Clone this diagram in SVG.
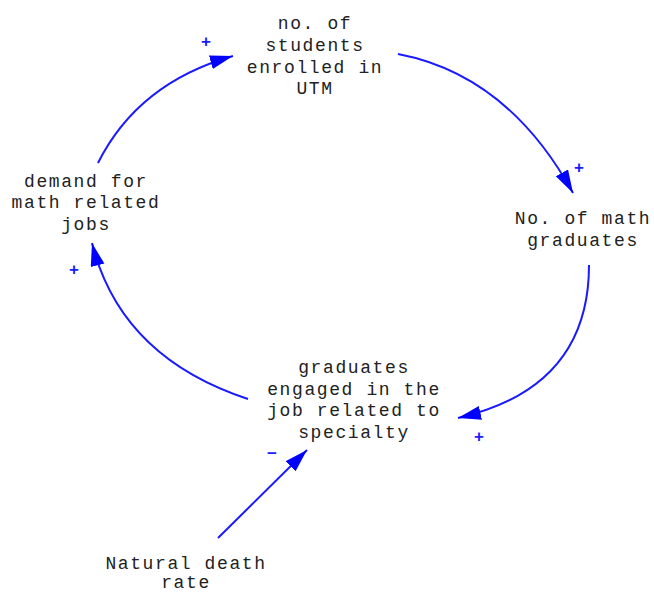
<svg xmlns="http://www.w3.org/2000/svg" width="654" height="594" viewBox="0 0 654 594">
<style>
.lbl{font-family:"Liberation Mono","Courier New",monospace;font-size:18px;letter-spacing:1.6px;fill:#222;text-anchor:middle}
.lnk{fill:none;stroke:#1a1aff;stroke-width:2}
.sgn{font-family:"Liberation Sans",Arial,sans-serif;font-size:17px;font-weight:bold;fill:#1a1aff;text-anchor:middle}
</style>
<defs>
<marker id="ah" markerUnits="userSpaceOnUse" markerWidth="25" markerHeight="15" refX="23" refY="7" orient="auto" viewBox="0 0 25 15">
<path d="M0,0 L23,7 L0,14 Z" fill="#0000ff"/>
</marker>
</defs>
<rect width="654" height="594" fill="#fff"/>
<g id="connectors">
<path class="lnk" d="M98,163 Q138,83 233,56" marker-end="url(#ah)"/>
<path class="lnk" d="M398,54 Q508,75 573,193" marker-end="url(#ah)"/>
<path class="lnk" d="M589,265 Q589,388 458,418" marker-end="url(#ah)"/>
<path class="lnk" d="M248,399 Q120.5,357 92,243" marker-end="url(#ah)"/>
<path class="lnk" d="M218,538 L307,450" marker-end="url(#ah)"/>
<text class="sgn" x="206" y="47">+</text>
<text class="sgn" x="579" y="173">+</text>
<text class="sgn" x="479" y="442">+</text>
<text class="sgn" x="74" y="275">+</text>
<text class="sgn" x="272" y="459">−</text>
</g>
<g id="students">
<text class="lbl" x="315" y="29">no. of</text>
<text class="lbl" x="315" y="51">students</text>
<text class="lbl" x="315" y="73">enrolled in</text>
<text class="lbl" x="315" y="94">UTM</text>
</g>
<g id="graduates">
<text class="lbl" x="583" y="224">No. of math</text>
<text class="lbl" x="583" y="246">graduates</text>
</g>
<g id="engaged">
<text class="lbl" x="354" y="373">graduates</text>
<text class="lbl" x="354" y="395">engaged in the</text>
<text class="lbl" x="354" y="416">job related to</text>
<text class="lbl" x="354" y="438">specialty</text>
</g>
<g id="demand">
<text class="lbl" x="86" y="187">demand for</text>
<text class="lbl" x="86" y="208">math related</text>
<text class="lbl" x="86" y="230">jobs</text>
</g>
<g id="death">
<text class="lbl" x="186" y="569">Natural death</text>
<text class="lbl" x="186" y="588">rate</text>
</g>
</svg>
